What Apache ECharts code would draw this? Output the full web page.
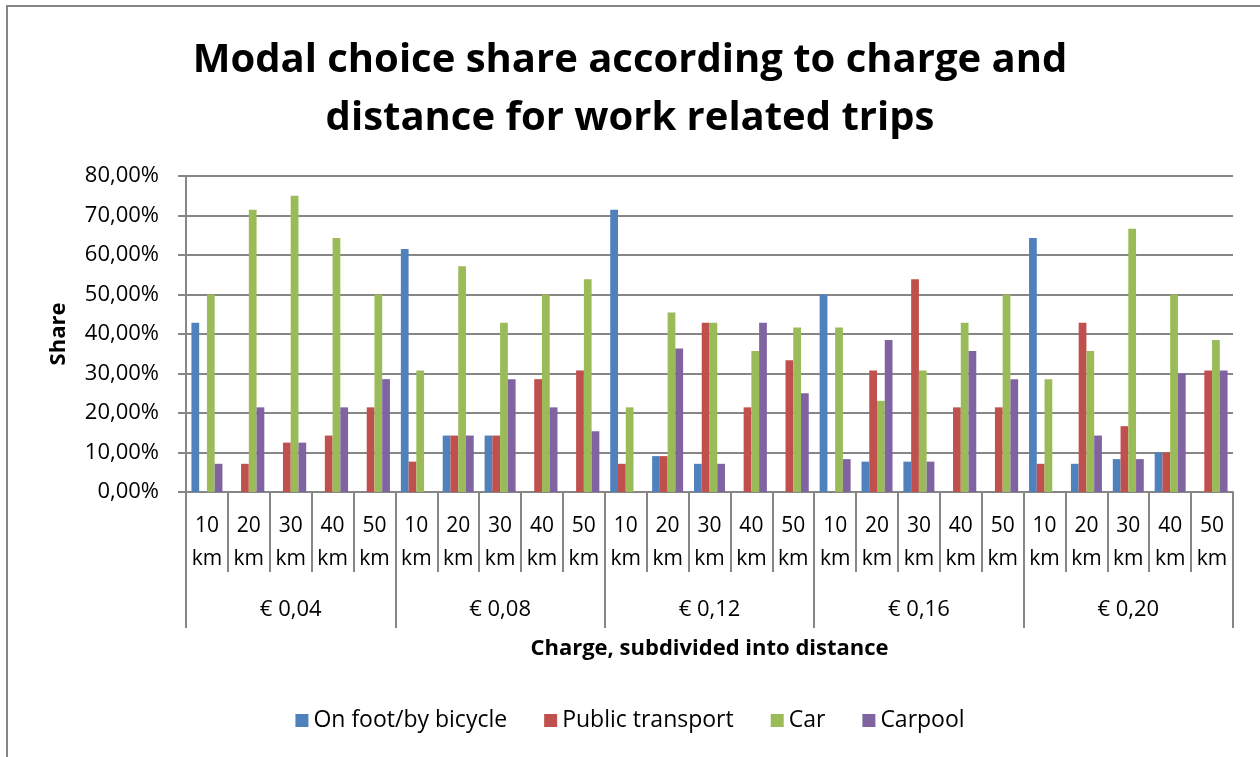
<!DOCTYPE html>
<html>
<head>
<meta charset="utf-8">
<script src="https://cdn.jsdelivr.net/npm/echarts@6/dist/echarts.min.js"></script>
<style>
html, body { margin: 0; padding: 0; background: #fff; }
#chart { width: 1260px; height: 757px; }
</style>
</head>
<body>
<div id="chart"></div>
<script>
// distance sub-categories, repeated for every charge level
var distances = ['10\nkm', '20\nkm', '30\nkm', '40\nkm', '50\nkm'];
var charges = ['€ 0,04', '€ 0,08', '€ 0,12', '€ 0,16', '€ 0,20'];
var seriesNames = ['On foot/by bicycle', 'Public transport', 'Car', 'Carpool'];

// shares in percent, 25 values each (charge x distance)
var onFoot = [
    42.86, 0, 0, 0, 0,
    61.54, 14.29, 14.29, 0, 0,
    71.43, 9.09, 7.14, 0, 0,
    50, 7.69, 7.69, 0, 0,
    64.29, 7.14, 8.33, 10, 0
];
var publicTransport = [
    0, 7.14, 12.5, 14.29, 21.43,
    7.69, 14.29, 14.29, 28.57, 30.77,
    7.14, 9.09, 42.86, 21.43, 33.33,
    0, 30.77, 53.85, 21.43, 21.43,
    7.14, 42.86, 16.67, 10, 30.77
];
var car = [
    50, 71.43, 75, 64.29, 50,
    30.77, 57.14, 42.86, 50, 53.85,
    21.43, 45.45, 42.86, 35.71, 41.67,
    41.67, 23.08, 30.77, 42.86, 50,
    28.57, 35.71, 66.67, 50, 38.46
];
var carpool = [
    7.14, 21.43, 12.5, 21.43, 28.57,
    0, 14.29, 28.57, 21.43, 15.38,
    0, 36.36, 7.14, 42.86, 25,
    8.33, 38.46, 7.69, 35.71, 28.57,
    0, 14.29, 8.33, 30, 30.77
];
var colors = ['#4F81BD', '#C0504D', '#9BBB59', '#8064A2'];
var yTicks = { min: 0, max: 80, interval: 10 };

var kmLabels = [];
charges.forEach(function () { kmLabels = kmLabels.concat(distances); });

var font = 'Open Sans';
var gray = '#868686';

var chart = echarts.init(document.getElementById('chart'), null, { renderer: 'canvas' });

function makeSeries(name, data, i) {
    return {
        name: name,
        type: 'bar',
        xAxisIndex: 0,
        data: data,
        barGap: '0%',
        barCategoryGap: '26%',
        itemStyle: { color: colors[i] }
    };
}

var option = {
    animation: false,
    textStyle: { fontFamily: font, color: '#000' },
    title: {
        text: 'Modal choice share according to charge and\ndistance for work related trips',
        left: 'center',
        top: 27,
        textStyle: { fontFamily: font, fontSize: 40, fontWeight: 'bold', lineHeight: 58, color: '#000' }
    },
    graphic: [{
        type: 'rect',
        shape: { x: 7, y: 6, width: 1300, height: 800 },
        style: { fill: 'none', stroke: gray, lineWidth: 2 },
        silent: true
    }],
    legend: {
        bottom: 20,
        left: 'center',
        icon: 'rect',
        itemWidth: 13,
        itemHeight: 13,
        itemGap: 37,
        textStyle: { fontFamily: font, fontSize: 23, color: '#000' },
        data: seriesNames
    },
    grid: { left: 186, right: 27, top: 176, bottom: 265, containLabel: false },
    xAxis: [{
        type: 'category',
        data: kmLabels,
        axisLine: { show: true, lineStyle: { color: gray, width: 2 } },
        axisTick: { show: true, interval: 0, length: 80, lineStyle: { color: gray, width: 2 } },
        axisLabel: { interval: 0, fontSize: 21, lineHeight: 33, margin: 18, color: '#000', fontFamily: font }
    }, {
        type: 'category',
        data: charges,
        position: 'bottom',
        axisLine: { show: false },
        axisTick: { show: true, interval: 0, length: 136, lineStyle: { color: gray, width: 2 } },
        axisLabel: { interval: 0, fontSize: 22, margin: 107, color: '#000', fontFamily: font },
        name: 'Charge, subdivided into distance',
        nameLocation: 'middle',
        nameGap: 146,
        nameTextStyle: { fontFamily: font, fontSize: 22, fontWeight: 'bold', color: '#000' }
    }],
    yAxis: {
        type: 'value',
        min: yTicks.min,
        max: yTicks.max,
        interval: yTicks.interval,
        name: 'Share',
        nameLocation: 'middle',
        nameGap: 116,
        nameTextStyle: { fontFamily: font, fontSize: 22, fontWeight: 'bold', color: '#000' },
        axisLine: { show: true, lineStyle: { color: gray, width: 2 } },
        axisTick: { show: true, length: 8, lineStyle: { color: gray, width: 2 } },
        splitLine: { lineStyle: { color: gray, width: 2 } },
        axisLabel: {
            margin: 27,
            fontSize: 22,
            color: '#000',
            fontFamily: font,
            formatter: function (v) { return v.toFixed(2).replace('.', ',') + '%'; }
        }
    },
    series: [
        makeSeries(seriesNames[0], onFoot, 0),
        makeSeries(seriesNames[1], publicTransport, 1),
        makeSeries(seriesNames[2], car, 2),
        makeSeries(seriesNames[3], carpool, 3)
    ]
};
chart.setOption(option);
</script>
</body>
</html>
